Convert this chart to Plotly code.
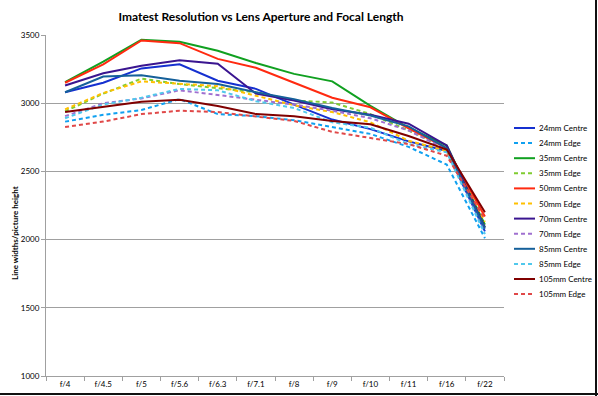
import plotly.graph_objects as go

apertures = ["f/4", "f/4.5", "f/5", "f/5.6", "f/6.3", "f/7.1", "f/8", "f/9", "f/10", "f/11", "f/16", "f/22"]

mm24_centre = [3080, 3150, 3255, 3285, 3165, 3105, 2990, 2880, 2810, 2720, 2650, 2060]
mm24_edge = [2865, 2915, 2950, 3030, 2920, 2905, 2875, 2825, 2775, 2680, 2550, 2010]
mm35_centre = [3155, 3305, 3465, 3450, 3385, 3295, 3215, 3160, 2980, 2820, 2690, 2110]
mm35_edge = [2940, 3070, 3180, 3140, 3110, 3080, 3020, 3005, 2920, 2800, 2670, 2090]
mm50_centre = [3150, 3285, 3460, 3440, 3325, 3260, 3150, 3040, 2970, 2815, 2670, 2170]
mm50_edge = [2955, 3075, 3160, 3145, 3125, 3055, 2985, 2935, 2860, 2725, 2650, 2130]
mm70_centre = [3130, 3220, 3275, 3315, 3290, 3070, 3020, 2955, 2915, 2850, 2690, 2090]
mm70_edge = [2905, 3000, 3035, 3095, 3060, 3025, 2990, 2945, 2890, 2800, 2660, 2070]
mm85_centre = [3080, 3195, 3205, 3165, 3140, 3080, 3030, 2965, 2910, 2830, 2670, 2080]
mm85_edge = [2890, 2990, 3040, 3105, 3095, 3015, 2965, 2860, 2820, 2700, 2640, 2040]
mm105_centre = [2935, 2970, 3010, 3025, 2980, 2920, 2905, 2870, 2845, 2760, 2660, 2200]
mm105_edge = [2825, 2865, 2920, 2945, 2935, 2900, 2870, 2790, 2745, 2700, 2615, 2150]

y_ticks = [1000, 1500, 2000, 2500, 3000, 3500]

series = [
    ("24mm Centre", mm24_centre, "#1530D0", "solid"),
    ("24mm Edge", mm24_edge, "#10A0F0", "dash"),
    ("35mm Centre", mm35_centre, "#10A020", "solid"),
    ("35mm Edge", mm35_edge, "#80CC30", "dash"),
    ("50mm Centre", mm50_centre, "#FF2A10", "solid"),
    ("50mm Edge", mm50_edge, "#FFC000", "dash"),
    ("70mm Centre", mm70_centre, "#3A1590", "solid"),
    ("70mm Edge", mm70_edge, "#A070D0", "dash"),
    ("85mm Centre", mm85_centre, "#15609A", "solid"),
    ("85mm Edge", mm85_edge, "#50C8EC", "dash"),
    ("105mm Centre", mm105_centre, "#800000", "solid"),
    ("105mm Edge", mm105_edge, "#E04848", "dash"),
]

# plot area geometry (pixels)
W, H = 598, 396
ML, MR, MT, MB = 46, 94, 35, 20
PW, PH = W - ML - MR, H - MT - MB

def px_x(x):
    return (x - ML) / PW

def px_y(y):
    return (H - MB - y) / PH

DASH = "4px,3px"

fig = go.Figure()
shapes = []
annotations = []
for i, (name, vals, color, dash) in enumerate(series):
    d = DASH if dash == "dash" else "solid"
    fig.add_trace(go.Scatter(
        x=apertures, y=vals, name=name, mode="lines", showlegend=False,
        line=dict(color=color, width=2, dash=d),
    ))
    ly = 128 + i * 15.1
    shapes.append(dict(type="line", xref="paper", yref="paper",
                       x0=px_x(514), x1=px_x(535), y0=px_y(ly), y1=px_y(ly),
                       line=dict(color=color, width=2, dash=d)))
    annotations.append(dict(text=name, xref="paper", yref="paper",
                            x=px_x(537), y=px_y(ly), xanchor="left", yanchor="middle",
                            showarrow=False, font=dict(family="Lato", size=8, color="#000000")))

annotations.append(dict(
    text="<b>Line widths/picture height</b>", textangle=-90,
    xref="paper", yref="paper", x=px_x(15), y=px_y(233), xanchor="center", yanchor="middle",
    showarrow=False, font=dict(family="Lato", size=8, color="#000000"),
))

shapes.append(dict(type="line", xref="paper", yref="paper", x0=px_x(596), x1=px_x(596),
                   y0=px_y(396), y1=px_y(0), line=dict(color="#111111", width=2)))
shapes.append(dict(type="line", xref="paper", yref="paper", x0=px_x(0), x1=px_x(598),
                   y0=px_y(394), y1=px_y(394), line=dict(color="#111111", width=2)))

fig.update_layout(
    width=W, height=H,
    margin=dict(l=ML, r=MR, t=MT, b=MB, autoexpand=False),
    paper_bgcolor="white", plot_bgcolor="white",
    font=dict(family="Lato", color="#000000"),
    title=dict(text="<b>Imatest Resolution vs Lens Aperture and Focal Length</b>",
               xref="container", x=261 / W, xanchor="center", y=1 - 17 / H, yanchor="middle",
               font=dict(family="Lato", size=12, color="#000000")),
    showlegend=False,
    xaxis=dict(
        type="category", showgrid=False, showline=True, linecolor="#A0A0A0", linewidth=1,
        ticks="outside", tickson="boundaries", ticklen=4, tickcolor="#A0A0A0",
        tickfont=dict(family="Lato", size=8, color="#000000"),
        range=[-0.5, 11.5], zeroline=False,
    ),
    yaxis=dict(
        range=[1000, 3500], tickvals=y_ticks, showgrid=True, gridcolor="#A0A0A0", gridwidth=1,
        showline=True, linecolor="#A0A0A0", linewidth=1, ticks="outside", ticklen=4,
        tickcolor="#A0A0A0", tickfont=dict(family="Lato", size=8, color="#000000"),
        zeroline=False,
    ),
    annotations=annotations,
    shapes=shapes,
)

fig.write_html("out.html", config={"displayModeBar": False},
               post_script="document.body.style.margin='0px';document.body.style.overflow='hidden';")
